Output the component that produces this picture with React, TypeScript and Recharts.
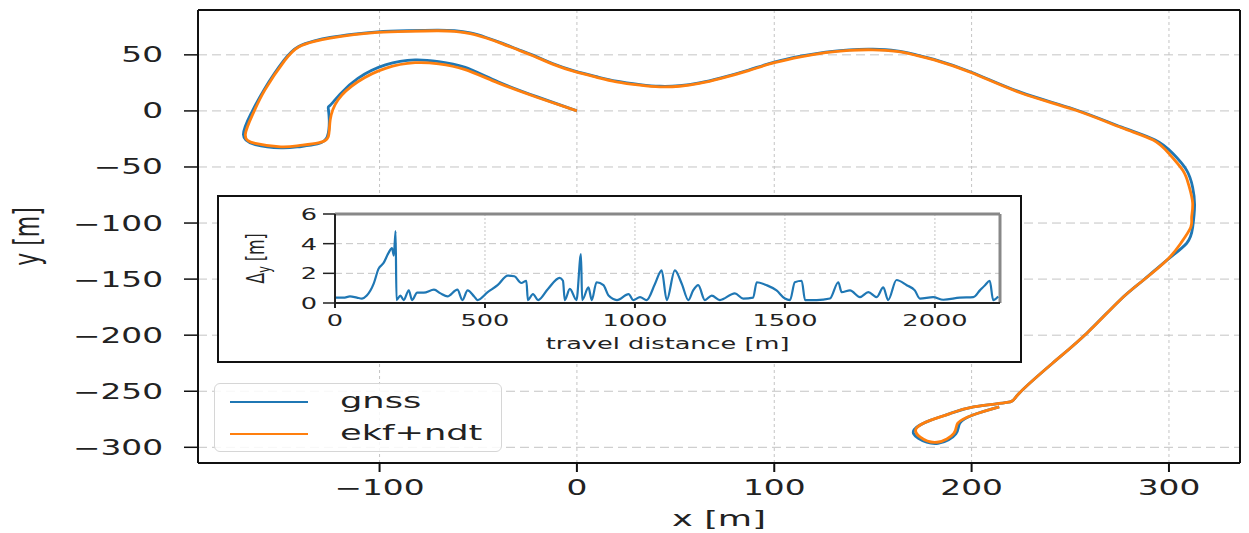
import { LineChart, Line, XAxis, YAxis, CartesianGrid, ReferenceLine } from 'recharts'

// trajectory (x, y in metres)
const ekfX = [0, -20, -40, -57, -70, -82, -97, -111, -121, -125, -126, -131, -141, -150, -163, -168, -164, -158, -148, -141, -133, -125, -113, -101, -86, -71, -62, -54, -46, -38, -30, -22, -12, -1, 10, 20, 32, 42, 52, 62, 73, 87, 100, 114, 126, 138, 150, 162, 172, 181, 200, 225, 252, 276, 292, 300, 307, 310, 312, 311.5, 311, 306, 299, 287, 275, 258.5, 241, 224, 218, 201, 189, 179, 172, 174, 182.5, 191, 193, 201, 214]
const ekfY = [0, 12, 25, 37, 42, 43, 38, 26, 10, -8, -23, -28.5, -31, -32, -29, -21, -2, 19, 45, 57, 62, 65, 68, 70, 71, 71.5, 71, 69, 65, 60, 54.5, 49, 41.5, 35, 30, 26, 23, 21.5, 22, 24.5, 29, 36, 43, 48.5, 52, 54, 54.5, 53, 49.5, 45.5, 34, 16, 1, -15, -26, -38, -53, -66, -82, -95, -104, -118, -133, -151, -169, -198, -225, -252, -260, -264, -270, -276, -283, -291, -295.5, -287.5, -278.5, -271, -264]

const gnssX = [0, -20, -40, -57, -70, -82, -97, -111, -120, -125, -126, -125.5, -126.5, -131.5, -141, -150, -163, -169, -165, -158.5, -148.5, -141, -133, -125, -113, -101, -86, -71, -62, -54, -46, -38, -30, -22, -12, -1, 10, 20, 32, 42, 52, 62, 73, 87, 100, 114, 126, 138, 150, 162, 172, 181, 200, 225, 252, 276, 293, 302, 309, 312, 313, 312, 309, 299, 287, 275, 258.5, 241, 224, 218, 201, 189, 179, 171, 173, 183, 192, 194, 201, 214]
const gnssY = [0, 12.5, 26, 39, 44, 45.5, 41, 29, 15, 5, 2.5, -8, -23, -29.5, -32, -33, -30, -21, -2, 19, 45, 57.5, 62.5, 65.5, 68.5, 70.5, 71.5, 72, 71.5, 69.5, 65.5, 60.5, 55, 49.5, 42, 35.5, 30.5, 26.5, 23.5, 22, 22.5, 25, 29.5, 36.5, 43.5, 49, 52.5, 54.5, 55, 53.5, 50, 46, 34.5, 16.5, 1.5, -14.5, -26, -38, -53, -68, -84, -104, -118, -133, -151, -169, -198, -225, -252, -260, -264, -270, -276, -284, -292, -296.5, -288, -278.5, -271, -264]

// inset: lateral error vs travel distance
const distance = [0, 28, 50, 73, 90, 106, 129, 145, 162, 179, 190, 196, 202, 205, 218, 229, 246, 257, 274, 296, 330, 352, 375, 408, 425, 442, 464, 475, 509, 542, 576, 598, 621, 638, 643, 660, 677, 710, 749, 760, 766, 783, 805, 820, 824, 845, 856, 872, 895, 912, 940, 979, 994, 1017, 1039, 1067, 1089, 1106, 1133, 1156, 1178, 1194, 1211, 1233, 1256, 1283, 1333, 1361, 1394, 1406, 1439, 1472, 1500, 1517, 1533, 1556, 1567, 1606, 1650, 1678, 1689, 1717, 1750, 1778, 1806, 1828, 1844, 1872, 1906, 1933, 1950, 1994, 2028, 2083, 2128, 2150, 2167, 2183, 2194, 2211]
const deltaY = [0.36, 0.36, 0.44, 0.36, 0.3, 0.5, 1.3, 2.3, 2.7, 3.4, 3.7, 3.2, 4.85, 0.2, 0.5, 0.2, 0.85, 0.2, 0.7, 0.7, 0.9, 0.65, 0.44, 0.9, 0.2, 0.85, 0.44, 0.2, 0.73, 1.2, 1.85, 1.8, 1.35, 1.5, 0.2, 0.6, 0.2, 0.95, 1.7, 1.5, 0.2, 0.95, 0.2, 3.3, 0.2, 1.05, 0.2, 1.4, 1.2, 0.5, 0.2, 0.6, 0.2, 0.4, 0.2, 1.3, 2.2, 0.2, 2.2, 1.3, 0.2, 0.85, 1.2, 0.2, 0.5, 0.2, 0.65, 0.3, 0.36, 1.4, 1.2, 0.85, 0.3, 0.2, 1.4, 1.5, 0.2, 0.2, 0.3, 1.4, 0.73, 0.85, 0.4, 0.73, 0.4, 1.05, 0.2, 1.55, 1.2, 0.85, 0.3, 0.4, 0.22, 0.36, 0.4, 0.85, 1.2, 1.5, 0.2, 0.44]

const xTicks = [-100, 0, 100, 200, 300]
const yTicks = [-300, -250, -200, -150, -100, -50, 0, 50]
const insetXTicks = [0, 500, 1000, 1500, 2000]
const insetYTicks = [0, 2, 4, 6]

const X_DOMAIN = [-192, 336]
const Y_DOMAIN = [-314, 90]
const D_DOMAIN = [0, 2217]
const V_DOMAIN = [0, 6]

const ekfData = ekfX.map((x, i) => ({ x, y: ekfY[i] }))
const gnssData = gnssX.map((x, i) => ({ x, y: gnssY[i] }))
const errData = distance.map((d, i) => ({ d, v: deltaY[i] }))

const FONT = '"DejaVu Sans", sans-serif'
const SX = 1.6 // the source figure is stretched horizontally
const BLUE = '#1f77b4'
const ORANGE = '#ff7f0e'

const fmt = (v: number) => (v < 0 ? `\u2212${Math.abs(v)}` : `${v}`)

function Stretch({ x, y, size, anchor = 'middle', rotate = false, children }: any) {
  return (
    <text
      transform={`translate(${x},${y}) scale(${SX},1)${rotate ? ' rotate(-90)' : ''}`}
      textAnchor={anchor}
      fontSize={size}
      fontFamily={FONT}
      fill="#222"
    >
      {children}
    </text>
  )
}

const MainXTick = ({ x, y, payload }: any) => (
  <Stretch x={x} y={y + 17} size={20.5}>{fmt(payload.value)}</Stretch>
)
const MainYTick = ({ x, y, payload }: any) => (
  <Stretch x={x} y={y + 7.5} size={20.5} anchor="end">{fmt(payload.value)}</Stretch>
)
const InsetXTick = ({ x, y, payload }: any) => (
  <Stretch x={x} y={y + 15} size={16}>{payload.value}</Stretch>
)
const InsetYTick = ({ x, y, payload }: any) => (
  <Stretch x={x} y={y + 6} size={16} anchor="end">{payload.value}</Stretch>
)

function Legend() {
  const row = (color: string, label: string, top: number) => (
    <div style={{ position: 'absolute', left: 0, top, height: 32, width: '100%' }}>
      <div style={{ position: 'absolute', left: 15, top: 15, width: 78, height: 2, background: color }} />
      <div
        style={{
          position: 'absolute', left: 125, top: 2, fontSize: 22, fontFamily: FONT, color: '#222',
          transform: `scaleX(${SX})`, transformOrigin: 'left center', whiteSpace: 'nowrap', lineHeight: '26px',
        }}
      >
        {label}
      </div>
    </div>
  )
  return (
    <div
      style={{
        position: 'absolute', left: 214, top: 383, width: 288, height: 69, boxSizing: 'border-box',
        border: '1px solid #d6d6d6', borderRadius: 6, background: 'rgba(255,255,255,0.85)',
      }}
    >
      {row(BLUE, 'gnss', 2)}
      {row(ORANGE, 'ekf+ndt', 34)}
    </div>
  )
}

export default function App() {
  return (
    <div style={{ position: 'absolute', left: 0, top: 0, width: 1249, height: 533, background: '#fff' }}>
      <LineChart width={1249} height={533} margin={{ top: 10, right: 9, bottom: 40, left: 0 }}>
        <CartesianGrid horizontal vertical={false} stroke="#c4c4c4" strokeDasharray="9 5" />
        <CartesianGrid horizontal={false} vertical stroke="#c4c4c4" strokeDasharray="3 3" />
        <XAxis
          type="number"
          dataKey="x"
          domain={X_DOMAIN}
          ticks={xTicks}
          allowDataOverflow
          height={30}
          tickSize={9}
          tickMargin={6}
          tick={(p: any) => <MainXTick {...p} />}
          axisLine={{ stroke: '#111', strokeWidth: 2 }}
          tickLine={{ stroke: '#111', strokeWidth: 2 }}
          label={(p: any) => (
            <Stretch x={p.viewBox.x + p.viewBox.width / 2} y={p.viewBox.y + 63} size={22}>x [m]</Stretch>
          )}
        />
        <YAxis
          type="number"
          dataKey="y"
          domain={Y_DOMAIN}
          ticks={yTicks}
          allowDataOverflow
          width={198}
          tickSize={14}
          tickMargin={21}
          tick={(p: any) => <MainYTick {...p} />}
          axisLine={{ stroke: '#111', strokeWidth: 2 }}
          tickLine={{ stroke: '#111', strokeWidth: 1.5 }}
          label={(p: any) => (
            <Stretch x={p.viewBox.x + 39} y={p.viewBox.y + p.viewBox.height / 2} size={22} rotate>y [m]</Stretch>
          )}
        />
        {/* top / right spines */}
        <ReferenceLine y={Y_DOMAIN[1]} stroke="#111" strokeWidth={2} />
        <ReferenceLine x={X_DOMAIN[1]} stroke="#111" strokeWidth={2} />
        <Line data={gnssData} dataKey="y" type="natural" stroke={BLUE} strokeWidth={2.8} dot={false} isAnimationActive={false} />
        <Line data={ekfData} dataKey="y" type="natural" stroke={ORANGE} strokeWidth={2.8} dot={false} isAnimationActive={false} />
      </LineChart>

      <Legend />

      <div
        style={{
          position: 'absolute', left: 217, top: 195, width: 805, height: 168, boxSizing: 'border-box',
          border: '2px solid #111', background: '#fff',
        }}
      >
        <LineChart width={801} height={164} data={errData} margin={{ top: 17, right: 20, bottom: 32, left: 0 }}>
          <CartesianGrid horizontal vertical={false} stroke="#c4c4c4" strokeDasharray="7 4" />
          <CartesianGrid horizontal={false} vertical stroke="#c4c4c4" strokeDasharray="2 2" />
          <XAxis
            type="number"
            dataKey="d"
            domain={D_DOMAIN}
            ticks={insetXTicks}
            allowDataOverflow
            height={26}
            tickSize={5}
            tickMargin={3}
            tick={(p: any) => <InsetXTick {...p} />}
            axisLine={{ stroke: '#222', strokeWidth: 2 }}
            tickLine={{ stroke: '#222', strokeWidth: 2 }}
            label={(p: any) => (
              <Stretch x={p.viewBox.x + p.viewBox.width / 2} y={p.viewBox.y + 46} size={16}>travel distance [m]</Stretch>
            )}
          />
          <YAxis
            type="number"
            domain={V_DOMAIN}
            ticks={insetYTicks}
            allowDataOverflow
            width={116}
            tickSize={12}
            tickMargin={6}
            tick={(p: any) => <InsetYTick {...p} />}
            axisLine={{ stroke: '#222', strokeWidth: 2 }}
            tickLine={{ stroke: '#222', strokeWidth: 1.5 }}
            label={(p: any) => (
              <text
                transform={`translate(${p.viewBox.x + 45},${p.viewBox.y + p.viewBox.height / 2}) scale(${SX},1) rotate(-90)`}
                textAnchor="middle"
                fontSize={16}
                fontFamily={FONT}
                fill="#222"
              >
                {'\u0394'}
                <tspan fontSize={11} dy={4}>y</tspan>
                <tspan dy={-4}> [m]</tspan>
              </text>
            )}
          />
          <ReferenceLine y={V_DOMAIN[1]} stroke="#888" strokeWidth={3} />
          <ReferenceLine x={D_DOMAIN[1]} stroke="#888" strokeWidth={3} />
          <Line dataKey="v" type="monotone" stroke={BLUE} strokeWidth={2.2} dot={false} isAnimationActive={false} />
        </LineChart>
      </div>
    </div>
  )
}
